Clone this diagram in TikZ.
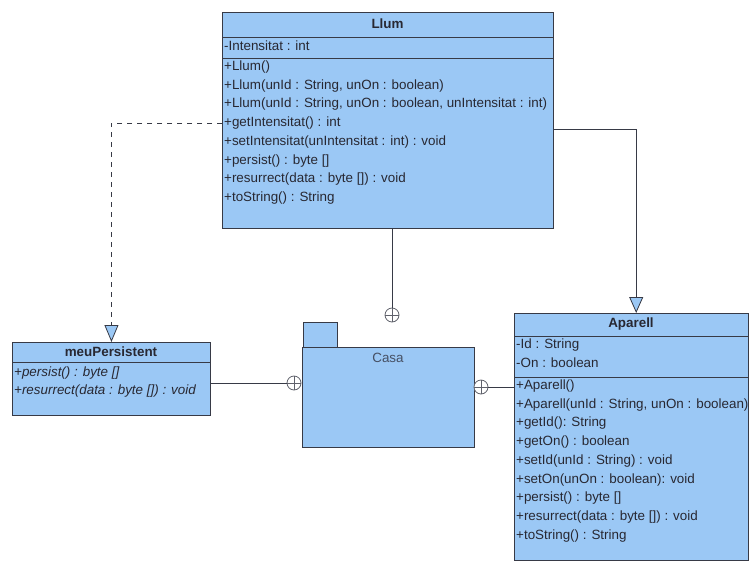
\documentclass[tikz,border=0pt]{standalone}
\usepackage{fontspec}
\setmainfont{Liberation Sans}
\usetikzlibrary{arrows.meta}

\definecolor{umlblue}{RGB}{155,200,245}
\definecolor{umlline}{RGB}{55,58,70}
\definecolor{umltext}{RGB}{40,40,50}
\definecolor{pkgtext}{RGB}{70,80,100}

\tikzset{
  classbox/.style={draw=umlline, fill=umlblue, line width=0.9pt, inner sep=0pt,
                   anchor=north west, rectangle},
  compsep/.style={draw=umlline, line width=0.9pt},
  classname/.style={inner sep=0pt, text=umltext, font=\bfseries\fontsize{13.4}{16}\selectfont},
  member/.style={anchor=west, inner sep=0pt, text=umltext, font=\fontsize{13.4}{16}\selectfont},
  absmember/.style={member, font=\itshape\fontsize{13.4}{16}\selectfont},
  link/.style={draw=umlline, line width=0.8pt},
  realize/.style={link, dashed, dash pattern=on 5pt off 5pt,
                  -{Triangle[open, fill=umlblue, length=17pt, width=14pt]}},
  generalize/.style={link, -{Triangle[open, fill=umlblue, length=16pt, width=14pt]}},
  nestmark/.style={circle, draw=umlline!80, line width=0.8pt, fill=white,
                   minimum size=14pt, inner sep=0pt,
                   path picture={
                     \draw[umlline!80, line width=0.8pt]
                       (path picture bounding box.north) -- (path picture bounding box.south)
                       (path picture bounding box.west) -- (path picture bounding box.east);}},
}

\begin{document}
\begin{tikzpicture}[x=1pt, y=-1pt]
  \useasboundingbox (0,0) rectangle (749,563);

  % ---------- class Llum ----------
  \node[classbox, minimum width=331pt, minimum height=216pt] (llum) at (222,12) {};
  \draw[compsep] ([yshift=-25pt]llum.north west) -- ([yshift=-25pt]llum.north east);
  \draw[compsep] ([yshift=-46pt]llum.north west) -- ([yshift=-46pt]llum.north east);
  \node[classname] (llumName) at (387.5,24) {Llum};
  \node[member] (llumA1) at (224,46) {-Intensitat : int};
  \foreach \txt [count=\i from 0] in {
      {+Llum()},
      {+Llum(unId : String, unOn : boolean)},
      {+Llum(unId : String, unOn : boolean, unIntensitat : int)},
      {+getIntensitat() : int},
      {+setIntensitat(unIntensitat : int) : void},
      {+persist() : byte []},
      {+resurrect(data : byte []) : void},
      {+toString() : String}}
    \node[member] (llumM\i) at (224,{67+18.75*\i}) {\txt};

  % ---------- interface meuPersistent ----------
  \node[classbox, minimum width=198pt, minimum height=73pt] (meu) at (12,342) {};
  \draw[compsep] ([yshift=-20pt]meu.north west) -- ([yshift=-20pt]meu.north east);
  \node[classname] (meuName) at (111,352) {meuPersistent};
  \node[absmember] (meuM0) at (14,373) {+persist() : byte []};
  \node[absmember] (meuM1) at (14,391) {+resurrect(data : byte []) : void};

  % ---------- package Casa ----------
  \node[classbox, minimum width=34pt, minimum height=26pt] (casaTab) at (303,322) {};
  \node[classbox, minimum width=172pt, minimum height=100pt] (casa) at (302,347) {};
  \node[member, anchor=center, text=pkgtext] (casaName) at (388,358) {Casa};

  % ---------- class Aparell ----------
  \node[classbox, minimum width=233.5pt, minimum height=247pt] (aparell) at (514,313) {};
  \draw[compsep] ([yshift=-23pt]aparell.north west) -- ([yshift=-23pt]aparell.north east);
  \draw[compsep] ([yshift=-64pt]aparell.north west) -- ([yshift=-64pt]aparell.north east);
  \node[classname] (aparellName) at (631,324) {Aparell};
  \node[member] (apA0) at (516,345) {-Id : String};
  \node[member] (apA1) at (516,363) {-On : boolean};
  \foreach \txt [count=\i from 0] in {
      {+Aparell()},
      {+Aparell(unId : String, unOn : boolean)},
      {+getId(): String},
      {+getOn() : boolean},
      {+setId(unId : String) : void},
      {+setOn(unOn : boolean): void},
      {+persist() : byte []},
      {+resurrect(data : byte []) : void},
      {+toString() : String}}
    \node[member] (apM\i) at (516,{386+18.75*\i}) {\txt};

  % ---------- containment marks ----------
  \node[nestmark] (nestTop) at (392,315) {};
  \node[nestmark] (nestLeft) at (294,383) {};
  \node[nestmark] (nestRight) at (481,387) {};

  % ---------- relations ----------
  \draw[realize] ([yshift=-111pt]llum.north west) -| (meu.north);
  \draw[generalize] ([yshift=-117pt]llum.north east) -| ([xshift=5pt]aparell.north);
  \draw[link] (nestTop |- llum.south) -- (nestTop.north);
  \draw[link] (meu.east |- nestLeft) -- (nestLeft.west);
  \draw[link] (nestRight.east) -- (aparell.west |- nestRight);
\end{tikzpicture}
\end{document}
